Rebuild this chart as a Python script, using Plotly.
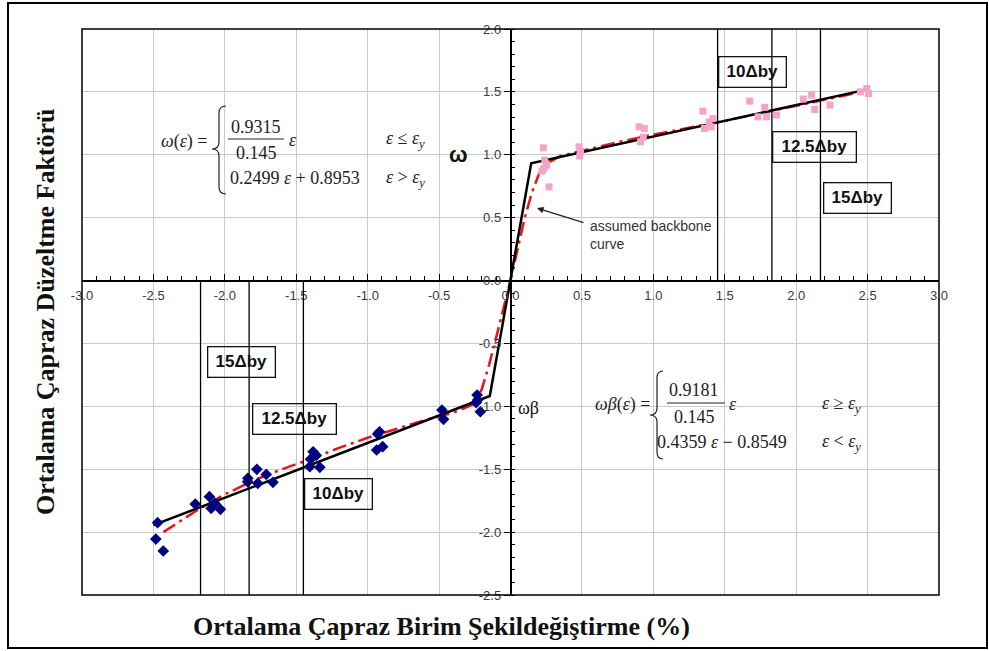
import plotly.graph_objects as go

# ---------------- data ----------------
# positive cycle (pink squares)
pos_strain = [0.23, 0.24, 0.234, 0.253, 0.27, 0.22, 0.48, 0.49, 0.485, 0.90, 0.937, 0.91,
              0.93, 1.347, 1.358, 1.405, 1.417, 1.39, 1.675, 1.78, 1.733, 1.792, 1.862,
              2.05, 2.108, 2.13, 2.237, 2.495, 2.507, 2.45]
pos_omega = [1.055, 0.957, 0.89, 0.918, 0.745, 0.87, 1.063, 1.03, 0.99, 1.222, 1.209, 1.103,
             1.14, 1.347, 1.209, 1.222, 1.289, 1.26, 1.427, 1.377, 1.302, 1.302, 1.316,
             1.443, 1.474, 1.36, 1.395, 1.527, 1.487, 1.5]

# negative cycle (navy diamonds)
neg_strain = [-2.471, -2.483, -2.431, -2.207, -2.108, -2.096, -2.031, -2.07, -1.839, -1.84,
              -1.776, -1.769, -1.71, -1.663, -1.382, -1.36, -1.40, -1.335, -1.405, -0.917,
              -0.937, -0.895, -0.93, -0.48, -0.469, -0.234, -0.23, -0.211, -0.24]
neg_omega = [-1.925, -2.055, -2.15, -1.777, -1.718, -1.811, -1.819, -1.77, -1.572, -1.6,
             -1.501, -1.612, -1.541, -1.604, -1.361, -1.39, -1.42, -1.485, -1.48, -1.202,
             -1.347, -1.321, -1.22, -1.029, -1.103, -0.91, -0.95, -1.043, -0.97]

# fitted trend (red dash-dot)
fit_strain = [-2.43, -2.2, -2.0, -1.8, -1.6, -1.4, -1.2, -1.0, -0.8, -0.6, -0.4, -0.25, -0.2,
              -0.15, -0.1, 0.0, 0.1, 0.15, 0.2, 0.25, 0.35, 0.5, 0.75, 1.0, 1.5, 2.0, 2.5]
fit_omega = [-2.0, -1.83, -1.70, -1.59, -1.50, -1.42, -1.33, -1.25, -1.18, -1.11, -1.05, -0.98,
             -0.86, -0.67, -0.45, 0.0, 0.5, 0.7, 0.85, 0.93, 0.99, 1.03, 1.10, 1.16, 1.27,
             1.39, 1.51]

# backbone equations
EPS_Y = 0.145
POS_PEAK = 0.9315                 # omega(eps) = 0.9315/0.145 eps
POS_SLOPE, POS_ICPT = 0.2499, 0.8953
NEG_PEAK = 0.9181                 # omega*beta(eps) = 0.9181/0.145 eps
NEG_SLOPE, NEG_ICPT = 0.4359, -0.8549
backbone_strain = [-2.5, -EPS_Y, EPS_Y, 2.5]
backbone_omega = [NEG_SLOPE * -2.5 + NEG_ICPT, -NEG_PEAK, POS_PEAK, POS_SLOPE * 2.5 + POS_ICPT]

# drift-level markers
drift_pos = [1.45, 1.83, 2.17]
drift_neg = [-1.45, -1.83, -2.17]
drift_labels = ["10\u0394by", "12.5\u0394by", "15\u0394by"]

x_ticks = [-3.0, -2.5, -2.0, -1.5, -1.0, -0.5, 0.0, 0.5, 1.0, 1.5, 2.0, 2.5, 3.0]
y_ticks = [-2.5, -2.0, -1.5, -1.0, -0.5, 0.0, 0.5, 1.0, 1.5, 2.0]
X_RANGE = [-3.0, 3.0]
Y_RANGE = [-2.5, 2.0]

# ---------------- layout helpers ----------------
W, H = 989, 651
L, R, T, B = 82, 50, 29, 56
PW, PH = W - L - R, H - T - B


def px(x):
    return (x - L) / PW


def py(y):
    return (H - B - y) / PH


SANS = "Liberation Sans, Arial, sans-serif"
SERIF = "Liberation Serif, Times New Roman, serif"
INK = "#222222"


def fmt(v):
    return f"{v:.1f}"


fig = go.Figure()

fig.add_trace(go.Scatter(x=fit_strain, y=fit_omega, mode="lines",
                         line=dict(color="#E8141C", width=2.5, dash="14px,5px,3px,5px"),
                         hoverinfo="skip"))
fig.add_trace(go.Scatter(x=backbone_strain, y=backbone_omega, mode="lines",
                         line=dict(color="black", width=2.5), hoverinfo="skip"))
fig.add_trace(go.Scatter(x=pos_strain, y=pos_omega, mode="markers",
                         marker=dict(symbol="square", size=7, color="#F4A3C9")))
fig.add_trace(go.Scatter(x=neg_strain, y=neg_omega, mode="markers",
                         marker=dict(symbol="diamond", size=9, color="#000080")))

shapes = []
for xv in drift_pos:
    shapes.append(dict(type="line", xref="x", yref="y", x0=xv, x1=xv, y0=0, y1=Y_RANGE[1],
                       line=dict(color="black", width=1.3), layer="above"))
for xv in drift_neg:
    shapes.append(dict(type="line", xref="x", yref="y", x0=xv, x1=xv, y0=Y_RANGE[0], y1=0,
                       line=dict(color="black", width=1.3), layer="above"))

# plot frame and outer frame
shapes.append(dict(type="rect", xref="paper", yref="paper", x0=0, x1=1, y0=0, y1=1,
                   line=dict(color="black", width=1.5), layer="above"))
shapes.append(dict(type="rect", xref="paper", yref="paper", x0=px(8), x1=px(987),
                   y0=py(648), y1=py(3), line=dict(color="black", width=2), layer="above"))

# fraction bars
shapes.append(dict(type="line", xref="paper", yref="paper", x0=px(228), x1=px(284),
                   y0=py(139), y1=py(139), line=dict(color=INK, width=1)))
shapes.append(dict(type="line", xref="paper", yref="paper", x0=px(667), x1=px(725),
                   y0=py(403), y1=py(403), line=dict(color=INK, width=1)))


def brace(xe, xs, xt, ytop, ymid, ybot):
    r = 7
    pts = (f"M {px(xe)},{py(ytop)} Q {px(xs)},{py(ytop)} {px(xs)},{py(ytop + r)} "
           f"L {px(xs)},{py(ymid - r)} Q {px(xs)},{py(ymid)} {px(xt)},{py(ymid)} "
           f"Q {px(xs)},{py(ymid)} {px(xs)},{py(ymid + r)} "
           f"L {px(xs)},{py(ybot - r)} Q {px(xs)},{py(ybot)} {px(xe)},{py(ybot)}")
    return dict(type="path", xref="paper", yref="paper", path=pts,
                line=dict(color=INK, width=1.2))


shapes.append(brace(226, 219, 212, 106, 149, 194))
shapes.append(brace(663, 657, 650, 371, 415, 459))

annotations = []


def txt(x, y, s, size=18, xanchor="center", family=SERIF, color=INK, **kw):
    annotations.append(dict(x=px(x), y=py(y), xref="paper", yref="paper", text=s,
                            showarrow=False, xanchor=xanchor, yanchor="middle",
                            font=dict(family=family, size=size, color=color), **kw))


# omega(eps) equation
txt(209, 141, "<i>\u03c9</i>(<i>\u03b5</i>) =", xanchor="right")
txt(256, 127, "0.9315")
txt(287, 140, "<i>\u03b5</i>", xanchor="left")
txt(256, 153, "0.145")
txt(228, 178, "0.2499 <i>\u03b5</i> + 0.8953", xanchor="left")
txt(384, 140, "<i>\u03b5</i> \u2264 <i>\u03b5</i><sub><i>y</i></sub>", xanchor="left")
txt(384, 178, "<i>\u03b5</i> &gt; <i>\u03b5</i><sub><i>y</i></sub>", xanchor="left")

# omega*beta(eps) equation
txt(652, 404, "<i>\u03c9\u03b2</i>(<i>\u03b5</i>) =", xanchor="right")
txt(694, 390, "0.9181")
txt(727, 404, "<i>\u03b5</i>", xanchor="left")
txt(694, 417, "0.145")
txt(655, 442, "0.4359 <i>\u03b5</i> \u2212 0.8549", xanchor="left")
txt(820, 404, "<i>\u03b5</i> \u2265 <i>\u03b5</i><sub><i>y</i></sub>", xanchor="left")
txt(820, 442, "<i>\u03b5</i> &lt; <i>\u03b5</i><sub><i>y</i></sub>", xanchor="left")

# curve names next to the axes
txt(458, 154, "<b>\u03c9</b>", size=22, family=SANS, color="#111")
txt(528, 408, "\u03c9\u03b2", size=18, family=SERIF, color="#111")

# drift level boxes
box_pos = [(752, 72), (814, 147), (857, 198)]
box_neg = [(338, 494), (294, 419), (241, 362)]
for lab, (bx, by) in zip(drift_labels + drift_labels, box_pos + box_neg):
    annotations.append(dict(x=px(bx), y=py(by), xref="paper", yref="paper", text=f"<b>{lab}</b>",
                            showarrow=False, xanchor="center", yanchor="middle",
                            width=80 if "12.5" in lab else 64, height=27,
                            bordercolor="#111", borderwidth=1.3, borderpad=1,
                            font=dict(family=SANS, size=17, color="#111")))

# arrow to the backbone curve
annotations.append(dict(x=0.1855, y=0.576, xref="x", yref="y", text="", showarrow=True,
                        ax=48, ay=15, arrowhead=2, arrowsize=1.1, arrowwidth=1.2,
                        arrowcolor="#222", standoff=0))
annotations.append(dict(x=px(588), y=py(216), xref="paper", yref="paper",
                        text="assumed backbone<br>curve", showarrow=False, align="left",
                        xanchor="left", yanchor="top",
                        font=dict(family=SANS, size=14, color="#333")))

# axis titles
annotations.append(dict(x=px(441), y=py(626), xref="paper", yref="paper",
                        text="<b>Ortalama Çapraz Birim Şekildeğiştirme (%)</b>",
                        showarrow=False, xanchor="center", yanchor="middle",
                        font=dict(family=SERIF, size=26, color="#111")))
annotations.append(dict(x=px(45), y=py(312), xref="paper", yref="paper",
                        text="<b>Ortalama Çapraz Düzeltme Faktörü</b>", textangle=-90,
                        showarrow=False, xanchor="center", yanchor="middle",
                        font=dict(family=SERIF, size=26, color="#111")))

x_axis_pos = (0 - Y_RANGE[0]) / (Y_RANGE[1] - Y_RANGE[0])
y_axis_pos = (0 - X_RANGE[0]) / (X_RANGE[1] - X_RANGE[0])

fig.update_layout(
    width=W, height=H,
    margin=dict(l=L, r=R, t=T, b=B),
    paper_bgcolor="white", plot_bgcolor="white",
    showlegend=False,
    shapes=shapes,
    annotations=annotations,
    xaxis=dict(range=X_RANGE, anchor="free", position=x_axis_pos,
               tickvals=x_ticks, ticktext=[fmt(v) for v in x_ticks],
               showline=True, linecolor="black", linewidth=1.5,
               ticks="inside", ticklen=6, tickcolor="black", tickwidth=1.2,
               minor=dict(dtick=0.1, ticks="inside", ticklen=4, tickcolor="black",
                          showgrid=False),
               showgrid=True, gridcolor="#cacaca", gridwidth=1, zeroline=False,
               ticklabelstandoff=3,
               tickfont=dict(family=SANS, size=13, color="#3a3a3a")),
    yaxis=dict(range=Y_RANGE, anchor="free", position=y_axis_pos,
               tickvals=y_ticks, ticktext=[fmt(v) for v in y_ticks],
               showline=True, linecolor="black", linewidth=1.5,
               ticks="outside", ticklen=6, tickcolor="black", tickwidth=1.2,
               minor=dict(dtick=0.1, ticks="inside", ticklen=4, tickcolor="black",
                          showgrid=False),
               showgrid=True, gridcolor="#cacaca", gridwidth=1, zeroline=False,
               tickfont=dict(family=SANS, size=13, color="#3a3a3a")),
)

fig.write_html("out.html")
